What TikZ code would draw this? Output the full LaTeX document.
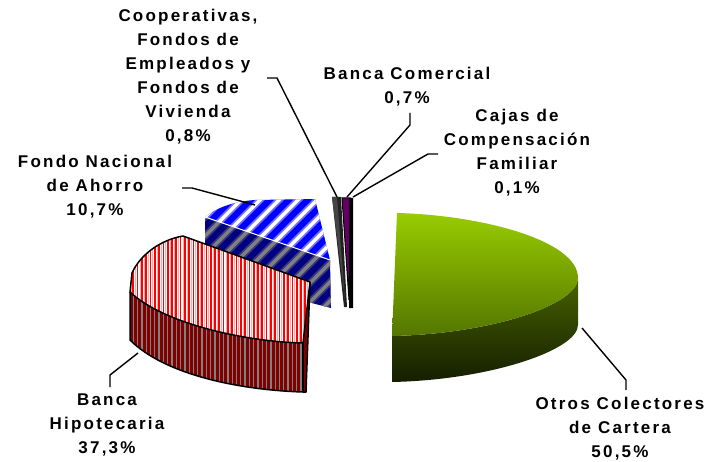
\documentclass[tikz,border=0pt]{standalone}
\usepackage{fontspec}
\newfontfamily\lblfont{Liberation Sans}[LetterSpace=13]
\definecolor{gtop}{RGB}{153,204,0}
\definecolor{gmid}{RGB}{84,118,0}
\definecolor{gside}{RGB}{72,98,0}
\definecolor{gbot}{RGB}{20,30,0}
\definecolor{maroon}{RGB}{128,0,0}
\definecolor{navyb}{RGB}{0,0,128}
\definecolor{pinkl}{RGB}{255,170,170}
\definecolor{purp}{RGB}{100,0,100}
\definecolor{dgray}{RGB}{34,34,34}
\definecolor{mgray}{RGB}{68,68,68}
\tikzset{
  lbl/.style={font={\lblfont\bfseries\fontsize{17}{24}\selectfont}, align=center, inner sep=0pt},
  leader/.style={draw=black, line width=1.4pt},
  edge/.style={draw=black, line width=1.5pt, line join=round}
}
\begin{document}
\begin{tikzpicture}[x=1pt,y=-1pt]
\useasboundingbox (0,0) rectangle (711,462);

% ---------- Fondo Nacional de Ahorro (blue) ----------
\begin{scope}
  \clip (205,217) -- (330,260) -- (331,308) -- (300,300) -- (205,262) -- cycle;
  \fill[navyb] (195,200) rectangle (340,320);
  \foreach \k in {-8,...,20} {
    \draw[gray, line width=7pt, opacity=0.45] ({130+19*\k},330) -- ++(150,-150);
    \draw[gray, line width=3.5pt] ({130+19*\k},330) -- ++(150,-150);
  }
\end{scope}
\begin{scope}
  \clip (205,217) .. controls (220,205) and (240,201) .. (255,200) -- (315,199) -- (330,260) -- cycle;
  \fill[blue] (195,190) rectangle (340,270);
  \foreach \k in {-8,...,20} {
    \draw[white, line width=7pt, opacity=0.45] ({130+19*\k},330) -- ++(150,-150);
    \draw[white, line width=3.5pt] ({130+19*\k},330) -- ++(150,-150);
  }
\end{scope}
\draw[white, line width=1pt] (205,217) -- (330,260);

% ---------- Banca Hipotecaria (red) ----------
\begin{scope}
  \clip (130,292) -- (130,340) .. controls (165,375) and (240,390) .. (303,392)
        -- (303,343) .. controls (250,342) and (165,325) .. (130,292) -- cycle;
  \fill[maroon] (125,280) rectangle (312,400);
  \foreach \k in {0,...,45} \draw[gray, line width=1.3pt] ({129+4.3*\k},280) -- ++(0,120);
\end{scope}
\begin{scope}
  \clip (183,236) -- (310,282) -- (303,343) .. controls (250,342) and (165,325) .. (130,292)
        -- (132,273) .. controls (140,255) and (160,240) .. (183,236) -- cycle;
  \fill[white] (125,230) rectangle (312,350);
  \foreach \k in {0,...,45} {
    \draw[red, line width=1.7pt] ({129+4.3*\k},230) -- ++(0,120);
    \draw[pinkl, line width=0.8pt] ({131.3+4.3*\k},230) -- ++(0,120);
  }
\end{scope}
\fill[maroon] (310,282) -- (306,392) -- (303,392) -- (303,343) -- cycle;
\draw[edge] (183,236) -- (310,282) -- (303,343) .. controls (250,342) and (165,325) .. (130,292)
        -- (132,273) .. controls (140,255) and (160,240) .. (183,236) -- cycle;
\draw[edge] (130,292) -- (130,340) .. controls (165,375) and (240,390) .. (303,392)
        -- (306,392) -- (310,282);
\draw[edge] (303,343) -- (303,392);

% ---------- thin slices ----------
\fill[dgray] (332,197) -- (341,197) -- (347,307) -- (344,307) -- cycle;
\fill[mgray] (332,197) -- (337,197) -- (345,300) -- cycle;
\fill[black] (350,198) -- (353,198) -- (353,308) -- (349,308) -- (349,300) -- cycle;
\filldraw[fill=purp, draw=black, line width=1pt] (342,198) -- (350,198) -- (349,300) -- cycle;

% ---------- Otros Colectores de Cartera (green) ----------
\shade[top color=gside, bottom color=gbot]
  (392,336) .. controls (490,334) and (578,305) .. (578,278)
  -- (578,325) .. controls (578,350) and (490,380) .. (392,382) -- cycle;
\shade[top color=gtop, bottom color=gmid]
  (397,213) .. controls (480,215) and (578,240) .. (578,278)
  .. controls (578,305) and (490,334) .. (392,336) -- cycle;

% ---------- labels ----------
\node[lbl] (coop) at (188,77) {Cooperativas,\\Fondos de\\Empleados y\\Fondos de\\Vivienda\\0,8\%};
\node[lbl] (fna) at (95,187) {Fondo Nacional\\de Ahorro\\10,7\%};
\node[lbl] (bcom) at (407,87) {Banca Comercial\\0,7\%};
\node[lbl] (cajas) at (517,153) {Cajas de\\Compensación\\Familiar\\0,1\%};
\node[lbl] (bhip) at (107,425) {Banca\\Hipotecaria\\37,3\%};
\node[lbl] (otros) at (620,429) {Otros Colectores\\de Cartera\\50,5\%};

% ---------- leader coordinates ----------
\coordinate (coopA) at (267,78);
\coordinate (coopB) at (277,78);
\coordinate (coopC) at (337,197);
\coordinate (fnaA) at (182,188);
\coordinate (fnaB) at (192,188);
\coordinate (fnaC) at (255,205);
\coordinate (bcomA) at (410,113);
\coordinate (bcomB) at (410,125);
\coordinate (bcomC) at (347,197);
\coordinate (cajasA) at (438,154);
\coordinate (cajasB) at (428,154);
\coordinate (cajasC) at (353,197);
\coordinate (bhipA) at (110,387);
\coordinate (bhipB) at (110,375);
\coordinate (bhipC) at (138,353);
\coordinate (otrosA) at (626,390);
\coordinate (otrosB) at (626,380);
\coordinate (otrosC) at (582,328);

\draw[leader] (coopA) -- (coopB) -- (coopC);
\draw[leader] (fnaA) -- (fnaB) -- (fnaC);
\draw[leader] (bcomA) -- (bcomB) -- (bcomC);
\draw[leader] (cajasA) -- (cajasB) -- (cajasC);
\draw[leader] (bhipA) -- (bhipB) -- (bhipC);
\draw[leader] (otrosA) -- (otrosB) -- (otrosC);
\end{tikzpicture}
\end{document}
